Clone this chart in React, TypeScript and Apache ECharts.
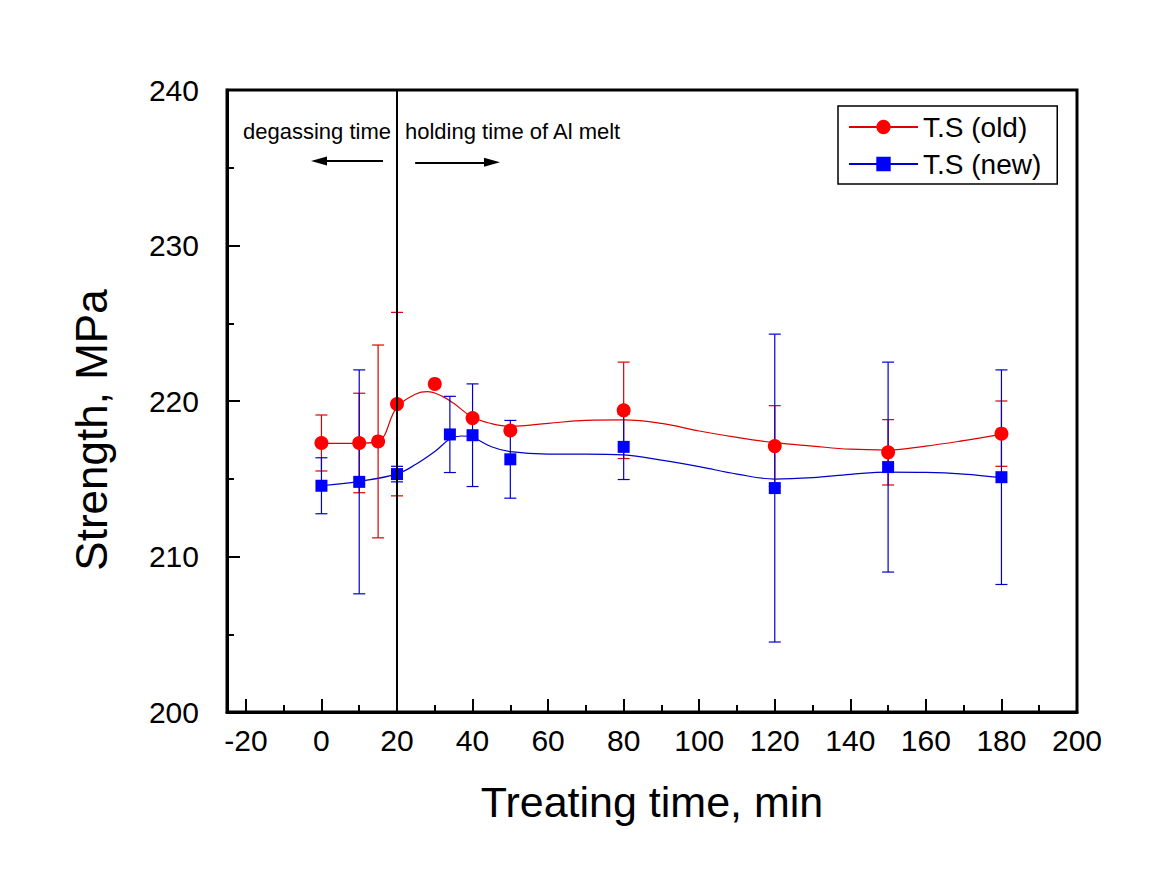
import { useEffect, useRef } from "react";
import * as echarts from "echarts";

// ---- data ----
const oldX = [0, 10, 15, 20, 30, 40, 50, 80, 120, 150, 180];
const oldY = [217.3, 217.3, 217.4, 219.8, 221.1, 218.9, 218.1, 219.4, 217.1, 216.7, 217.9];
const oldErr = [1.8, 3.2, 6.2, 5.9, 0, 0, 0, 3.1, 2.6, 2.1, 2.1];

const newX = [0, 10, 20, 34, 40, 50, 80, 120, 150, 180];
const newY = [214.55, 214.8, 215.3, 217.85, 217.8, 216.25, 217.05, 214.4, 215.75, 215.1];
const newErr = [1.8, 7.2, 0.5, 2.45, 3.3, 2.5, 2.1, 9.9, 6.75, 6.9];

// fitted (smoothed) curves as drawn in the reference
const oldCurveX = [0, 10, 15, 20, 25, 28, 32, 35, 40, 45, 50, 60, 70, 80, 90, 100, 110, 120, 130, 140, 150, 160, 170, 180];
const oldCurveY = [217.28, 217.28, 217.4, 219.6, 220.45, 220.6, 220.3, 219.85, 218.95, 218.55, 218.38, 218.56, 218.76, 218.78, 218.56, 218.07, 217.66, 217.32, 217.1, 216.9, 216.85, 217.1, 217.45, 217.85];

const newCurveX = [0, 10, 20, 25, 30, 34, 37, 40, 45, 50, 60, 70, 80, 90, 100, 110, 120, 130, 140, 150, 160, 170, 180];
const newCurveY = [214.55, 214.83, 215.31, 215.93, 216.75, 217.55, 217.75, 217.66, 217.06, 216.74, 216.59, 216.59, 216.53, 216.2, 215.78, 215.3, 214.98, 215.07, 215.28, 215.43, 215.41, 215.3, 215.07];

const xMajorTicks = [-20, 0, 20, 40, 60, 80, 100, 120, 140, 160, 180, 200];
const xMinorTicks = [-10, 10, 30, 50, 70, 90, 110, 130, 150, 170, 190];

const seriesNames = ["T.S (old)", "T.S (new)"];
const divideTime = 20;
const annotationTexts = ["degassing time", "holding time of Al melt"];

const FONT = "'Liberation Sans', Arial, sans-serif";
const RED = "#ff0000";
const RED_LINE = "#dd0000";
const BLUE = "#0000ff";
const BLUE_LINE = "#0000cc";

function errData(xs: number[], ys: number[], es: number[]) {
  const out: number[][] = [];
  xs.forEach((x, i) => {
    if (es[i] > 0) out.push([x, ys[i] - es[i], ys[i] + es[i]]);
  });
  return out;
}

function errorRender(color: string) {
  return (params: any, api: any) => {
    const x = api.value(0);
    const lo = api.value(1);
    const hi = api.value(2);
    const top = api.coord([x, hi]);
    const bot = api.coord([x, lo]);
    const hw = 6;
    const style = { stroke: color, lineWidth: 1.2 };
    return {
      type: "group",
      children: [
        { type: "line", shape: { x1: top[0], y1: top[1], x2: bot[0], y2: bot[1] }, style },
        { type: "line", shape: { x1: top[0] - hw, y1: top[1], x2: top[0] + hw, y2: top[1] }, style },
        { type: "line", shape: { x1: bot[0] - hw, y1: bot[1], x2: bot[0] + hw, y2: bot[1] }, style },
      ],
    };
  };
}

export default function App() {
  const ref = useRef<HTMLDivElement>(null);

  useEffect(() => {
    document.body.style.margin = "0";
    if (!ref.current) return;
    const chart = echarts.init(ref.current, undefined, { renderer: "svg" });

    const axisLineStyle = { color: "#000", width: 3 };

    chart.setOption({
      animation: false,
      backgroundColor: "#fff",
      textStyle: { fontFamily: FONT },
      grid: {
        left: 227,
        top: 90,
        width: 850,
        height: 622,
        show: true,
        borderColor: "#000",
        borderWidth: 3,
        backgroundColor: "transparent",
      },
      legend: {
        data: seriesNames,
        orient: "vertical",
        left: 838,
        top: 106,
        padding: [7, 16, 6, 10],
        itemWidth: 69,
        itemHeight: 18,
        itemGap: 9,
        borderColor: "#000",
        borderWidth: 1.5,
        backgroundColor: "#fff",
        textStyle: { fontSize: 28, color: "#000", fontFamily: FONT },
      },
      xAxis: [
        {
          type: "value",
          min: -25,
          max: 200,
          position: "bottom",
          axisLine: { show: true, onZero: false, lineStyle: axisLineStyle },
          axisTick: {
            show: true,
            inside: true,
            length: 13,
            customValues: xMajorTicks,
            lineStyle: { color: "#000", width: 2 },
          },
          axisLabel: {
            show: true,
            customValues: xMajorTicks,
            fontSize: 30,
            color: "#000",
            margin: 13,
            fontFamily: FONT,
          },
          splitLine: { show: false },
          name: "Treating time, min",
          nameLocation: "middle",
          nameGap: 68,
          nameTextStyle: { fontSize: 43, color: "#000", fontFamily: FONT },
        },
        {
          type: "value",
          min: -25,
          max: 200,
          position: "bottom",
          axisLine: { show: false, onZero: false },
          axisTick: {
            show: true,
            inside: true,
            length: 7,
            customValues: xMinorTicks,
            lineStyle: { color: "#000", width: 2 },
          },
          axisLabel: { show: false },
          splitLine: { show: false },
        },
      ],
      yAxis: {
        type: "value",
        min: 200,
        max: 240,
        interval: 10,
        axisLine: { show: true, onZero: false, lineStyle: axisLineStyle },
        axisTick: { show: true, inside: true, length: 13, lineStyle: { color: "#000", width: 2 } },
        minorTick: { show: true, splitNumber: 2, length: 7, lineStyle: { color: "#000", width: 2 } },
        axisLabel: { fontSize: 30, color: "#000", margin: 28, fontFamily: FONT },
        splitLine: { show: false },
      },
      graphic: [
        {
          type: "text",
          left: 243,
          top: 120,
          style: { text: annotationTexts[0], font: `22px ${FONT}`, fill: "#000" },
        },
        {
          type: "text",
          left: 405,
          top: 120,
          style: { text: annotationTexts[1], font: `22px ${FONT}`, fill: "#000" },
        },
        {
          type: "text",
          x: 91,
          y: 430,
          rotation: Math.PI / 2,
          style: {
            text: "Strength, MPa",
            font: `44px ${FONT}`,
            fill: "#000",
            align: "center",
            verticalAlign: "middle",
          },
        },
      ],
      series: [
        {
          name: seriesNames[0],
          type: "line",
          smooth: 0.4,
          showSymbol: false,
          symbol: "circle",
          data: oldCurveX.map((x, i) => [x, oldCurveY[i]]),
          lineStyle: { color: RED_LINE, width: 1.2 },
          itemStyle: { color: RED },
          z: 2,
          markLine: {
            silent: true,
            symbol: ["none", "none"],
            label: { show: false },
            lineStyle: { color: "#000", width: 2, type: "solid" },
            data: [{ xAxis: divideTime }],
          },
        },
        {
          name: seriesNames[1],
          type: "line",
          smooth: 0.4,
          showSymbol: false,
          symbol: "rect",
          data: newCurveX.map((x, i) => [x, newCurveY[i]]),
          lineStyle: { color: BLUE_LINE, width: 1.2 },
          itemStyle: { color: BLUE },
          z: 2,
          markLine: {
            silent: true,
            symbol: ["none", "triangle"],
            symbolSize: [9, 16],
            label: { show: false },
            lineStyle: { color: "#000", width: 2, type: "solid" },
            data: [
              [{ coord: [16.3, 235.43] }, { coord: [-0.65, 235.43] }],
              [{ coord: [24.8, 235.35] }, { coord: [45.15, 235.35] }],
            ],
          },
        },
        {
          name: "old-err",
          type: "custom",
          renderItem: errorRender(RED_LINE),
          data: errData(oldX, oldY, oldErr),
          encode: { x: 0, y: [1, 2] },
          z: 3,
        },
        {
          name: "new-err",
          type: "custom",
          renderItem: errorRender(BLUE_LINE),
          data: errData(newX, newY, newErr),
          encode: { x: 0, y: [1, 2] },
          z: 3,
        },
        {
          name: "old-pts",
          type: "scatter",
          symbol: "circle",
          symbolSize: 14,
          data: oldX.map((x, i) => [x, oldY[i]]),
          itemStyle: { color: RED, opacity: 1 },
          z: 4,
        },
        {
          name: "new-pts",
          type: "scatter",
          symbol: "rect",
          symbolSize: 12,
          data: newX.map((x, i) => [x, newY[i]]),
          itemStyle: { color: BLUE, opacity: 1 },
          z: 4,
        },
      ],
    });

    return () => chart.dispose();
  }, []);

  return <div ref={ref} style={{ width: 1172, height: 893 }} />;
}
